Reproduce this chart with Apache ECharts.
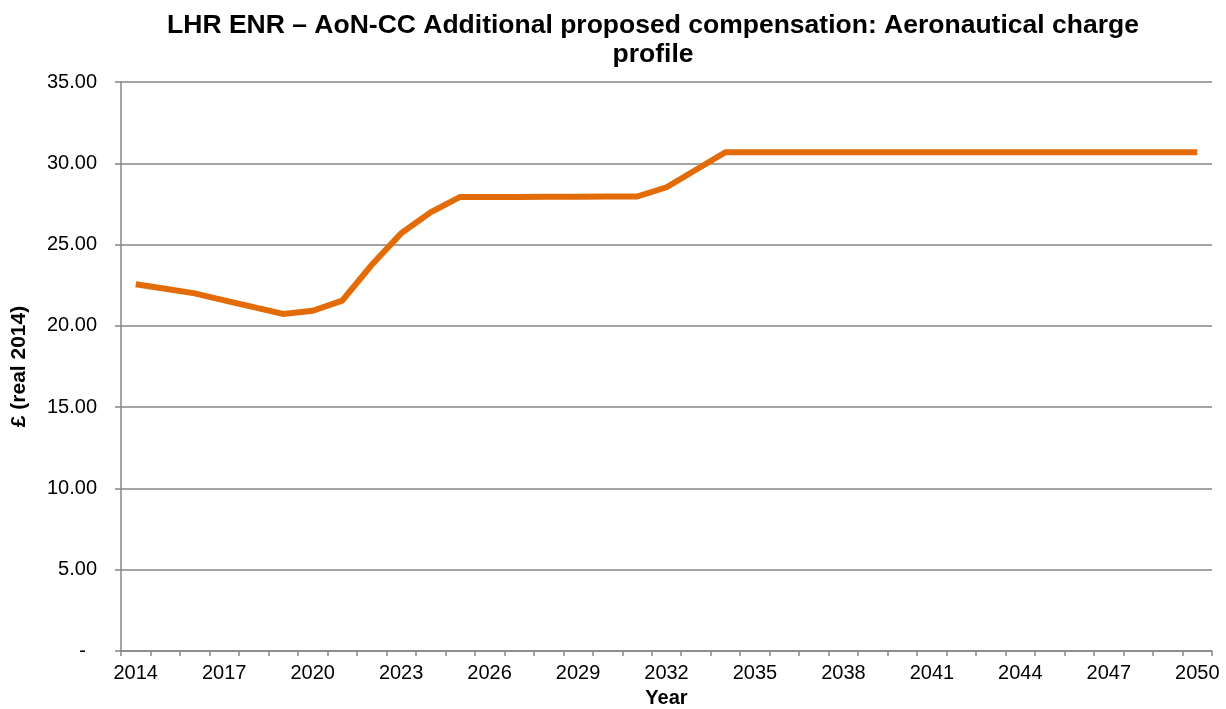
<!DOCTYPE html>
<html><head><meta charset="utf-8">
<script src="https://cdn.jsdelivr.net/npm/echarts@6/dist/echarts.min.js"></script>
<style>html,body{margin:0;padding:0;background:#fff}#c{width:1226px;height:709px}</style>
</head><body><div id="c"></div>
<script>
var years = [];
for (var y = 2014; y <= 2050; y++) years.push(String(y));
var charge = [22.56, 22.28, 22.00, 21.57, 21.15, 20.73, 20.93, 21.55, 23.74, 25.69, 26.99, 27.93,
  27.93, 27.93, 27.94, 27.94, 27.95, 27.95, 28.52, 29.60, 30.68,
  30.68, 30.68, 30.68, 30.68, 30.68, 30.68, 30.68, 30.68, 30.68, 30.68, 30.68, 30.68, 30.68, 30.68, 30.68, 30.68];
var titleText = 'LHR ENR \u2013 AoN-CC Additional proposed compensation: Aeronautical charge\nprofile';
var yName = '\u00a3 (real 2014)';
var xName = 'Year';
var FONT = '"Liberation Sans", Arial, sans-serif';

var chart = echarts.init(document.getElementById('c'));
chart.setOption({
  animation: false,
  backgroundColor: '#fff',
  title: {
    text: titleText, left: 648, top: 6, textAlign: 'center',
    textStyle: { fontFamily: FONT, fontSize: 26.5, fontWeight: 'bold', color: '#000', lineHeight: 29 }
  },
  grid: { left: 121, right: 14, top: 82, bottom: 58, containLabel: false, outerBoundsMode: 'none' },
  xAxis: {
    type: 'category', data: years, boundaryGap: true,
    name: xName, nameLocation: 'middle', nameGap: 37,
    nameTextStyle: { fontFamily: FONT, fontSize: 20, fontWeight: 'bold', color: '#000' },
    axisLine: { show: true, lineStyle: { color: '#868686', width: 1.5 } },
    axisTick: { show: true, interval: 0, alignWithLabel: false, length: 5, lineStyle: { color: '#868686', width: 1.5 } },
    axisLabel: { interval: 2, margin: 12, fontFamily: FONT, fontSize: 20, color: '#000' },
    splitLine: { show: false }
  },
  yAxis: {
    type: 'value', min: 0, max: 35, interval: 5,
    name: yName, nameLocation: 'middle', nameGap: 91, nameRotate: 90,
    nameTextStyle: { fontFamily: FONT, fontSize: 21, fontWeight: 'bold', color: '#000' },
    axisLine: { show: true, lineStyle: { color: '#868686', width: 1.5 } },
    axisTick: { show: true, length: 6, lineStyle: { color: '#868686', width: 1.5 } },
    axisLabel: {
      margin: 24, fontFamily: FONT, fontSize: 20, color: '#000',
      formatter: function (v) { return v === 0 ? '-  ' : v.toFixed(2); }
    },
    splitLine: { show: true, lineStyle: { color: '#868686', width: 1.5 } }
  },
  series: [{
    type: 'line', data: charge, symbol: 'none', smooth: false,
    lineStyle: { color: '#E36C09', width: 6, cap: 'butt', join: 'miter' },
    itemStyle: { color: '#E36C09' }
  }]
});
</script></body></html>
